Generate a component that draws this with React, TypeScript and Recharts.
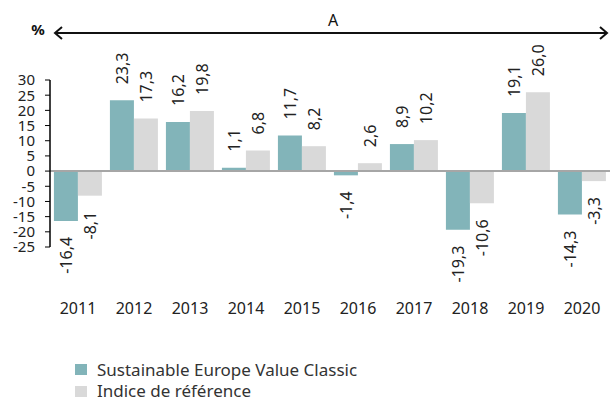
import { BarChart, Bar, XAxis, YAxis, ReferenceLine, LabelList } from 'recharts';

const years = ['2011', '2012', '2013', '2014', '2015', '2016', '2017', '2018', '2019', '2020'];
const fund = [-16.4, 23.3, 16.2, 1.1, 11.7, -1.4, 8.9, -19.3, 19.1, -14.3];
const benchmark = [-8.1, 17.3, 19.8, 6.8, 8.2, 2.6, 10.2, -10.6, 26.0, -3.3];
const yTicks = [-25, -20, -15, -10, -5, 0, 5, 10, 15, 20, 25, 30];
const seriesNames = ['Sustainable Europe Value Classic', 'Indice de référence'];
const colors = ['#82b4b9', '#d9d9d9'];

const FONT = '"Noto Sans", sans-serif';

const data = years.map((y, i) => ({ year: y, fund: fund[i], benchmark: benchmark[i] }));

const fmt = (v: number) => v.toFixed(1).replace('.', ',');

const RotLabel = (props: any) => {
  const { x, y, width, height, value } = props;
  const top = Math.min(y, y + height);
  const bottom = Math.max(y, y + height);
  const cx = x + width / 2;
  const pos = value >= 0;
  const ay = pos ? top - 16 : bottom + 16;
  return (
    <text
      x={cx}
      y={ay}
      transform={`rotate(-90 ${cx} ${ay})`}
      textAnchor={pos ? 'start' : 'end'}
      dominantBaseline="central"
      fontSize={16}
      fontFamily={FONT}
      fill="#222"
    >
      {fmt(value)}
    </text>
  );
};

export default function App() {
  return (
    <div style={{ position: 'absolute', left: 0, top: 0, width: 610, height: 401, background: '#fff', fontFamily: FONT }}>
      <BarChart
        width={610}
        height={401}
        data={data}
        margin={{ top: 80, right: 0, left: 0, bottom: 74 }}
        barCategoryGap="7%"
        barGap={0}
      >
        <XAxis
          dataKey="year"
          axisLine={false}
          tickLine={false}
          tickSize={0}
          tickMargin={56}
          height={80}
          interval={0}
          tick={{ fontSize: 16, fill: '#222', fontFamily: FONT }}
        />
        <YAxis
          domain={[-25, 30]}
          ticks={yTicks}
          interval={0}
          width={50}
          axisLine={{ stroke: '#000', strokeWidth: 1.5 }}
          tickLine={{ stroke: '#000' }}
          tickSize={5}
          tickMargin={10}
          tick={{ fontSize: 15, fill: '#222', fontFamily: FONT }}
        />
        <Bar dataKey="fund" fill={colors[0]} isAnimationActive={false}>
          <LabelList dataKey="fund" content={RotLabel} />
        </Bar>
        <Bar dataKey="benchmark" fill={colors[1]} isAnimationActive={false}>
          <LabelList dataKey="benchmark" content={RotLabel} />
        </Bar>
        <ReferenceLine y={0} stroke="#a6a6a6" strokeWidth={2} />
      </BarChart>

      <svg width={610} height={60} style={{ position: 'absolute', left: 0, top: 0 }}>
        <text x={38} y={29} textAnchor="middle" dominantBaseline="central" fontSize={15} fontWeight="bold" fontFamily={FONT} fill="#111">%</text>
        <text x={333} y={20} textAnchor="middle" dominantBaseline="central" fontSize={16} fontFamily={FONT} fill="#111">A</text>
        <line x1={56} y1={33} x2={606} y2={33} stroke="#111" strokeWidth={2} />
        <polyline points="62,27 55,33 62,39" fill="none" stroke="#111" strokeWidth={2} />
        <polyline points="600,27 607,33 600,39" fill="none" stroke="#111" strokeWidth={2} />
      </svg>

      <svg width={610} height={61} style={{ position: 'absolute', left: 0, top: 340 }}>
        {seriesNames.map((name, i) => (
          <g key={name}>
            <rect x={75} y={24 + i * 22} width={12} height={11} fill={colors[i]} />
            <text x={97} y={29 + i * 21} dominantBaseline="central" fontSize={17} fontFamily={FONT} fill="#333">
              {name}
            </text>
          </g>
        ))}
      </svg>
    </div>
  );
}
